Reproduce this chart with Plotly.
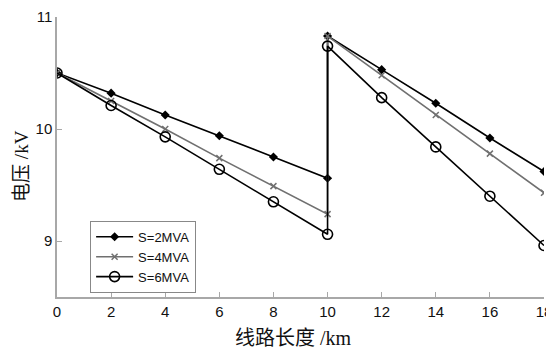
import plotly.graph_objects as go

x_vals = [0, 2, 4, 6, 8, 10, 10, 12, 14, 16, 18]
s2 = [10.50, 10.32, 10.125, 9.94, 9.75, 9.56, 10.83, 10.53, 10.23, 9.92, 9.62]
s4 = [10.50, 10.25, 10.00, 9.74, 9.49, 9.24, 10.83, 10.48, 10.125, 9.78, 9.43]
s6 = [10.50, 10.21, 9.93, 9.64, 9.35, 9.06, 10.74, 10.28, 9.84, 9.40, 8.96]
names = ["S=2MVA", "S=4MVA", "S=6MVA"]
x_ticks = [0, 2, 4, 6, 8, 10, 12, 14, 16, 18]
y_ticks = [9, 10, 11]
x_title = "线路长度 /km"
y_title = "电压 /kV"

fig = go.Figure()
fig.add_trace(go.Scatter(x=x_vals, y=s2, name=names[0], mode="lines+markers",
                         line=dict(color="black", width=1.6),
                         marker=dict(symbol="diamond", size=7, color="black")))
fig.add_trace(go.Scatter(x=x_vals, y=s4, name=names[1], mode="lines+markers",
                         line=dict(color="#707070", width=1.6),
                         marker=dict(symbol="x-thin-open", size=6, color="#707070",
                                     line=dict(color="#707070", width=1.5))))
fig.add_trace(go.Scatter(x=x_vals, y=s6, name=names[2], mode="lines+markers",
                         line=dict(color="black", width=1.6),
                         marker=dict(symbol="circle-open", size=10, color="black",
                                     line=dict(color="black", width=1.6))))

axis_common = dict(showline=True, linecolor="#a8a8a8", linewidth=1.5,
                   ticks="inside", tickcolor="#a8a8a8", ticklen=5, tickwidth=1,
                   showgrid=False, zeroline=False, mirror=False, automargin=False,
                   tickfont=dict(family="Liberation Sans, Arial", size=15, color="#111"))

title_font = dict(family="Liberation Serif, Noto Sans CJK SC", size=19, color="#111")

# page has an 8px body margin, so the figure is offset by 8px; margins compensate
fig.update_layout(
    width=546, height=342,
    margin=dict(l=49, r=10, t=9, b=53, autoexpand=False),
    plot_bgcolor="white", paper_bgcolor="white",
    xaxis=dict(range=[0, 18], tickvals=x_ticks, **axis_common),
    yaxis=dict(range=[8.5, 11], tickvals=y_ticks, **axis_common),
    legend=dict(x=0.068, y=0.272, xanchor="left", yanchor="top",
                bgcolor="white", bordercolor="#888", borderwidth=1,
                font=dict(family="Liberation Sans, Arial", size=13, color="#111"),
                tracegroupgap=0, itemwidth=37),
    showlegend=True,
    annotations=[
        dict(text=x_title, xref="paper", yref="paper", x=0.485, y=-0.146,
             xanchor="center", yanchor="middle", showarrow=False,
             font=dict(title_font, size=20)),
        dict(text=y_title, xref="paper", yref="paper", x=-0.072, y=0.468,
             xanchor="center", yanchor="middle", showarrow=False, textangle=-90,
             font=title_font),
    ],
)

fig.write_html("out.html")
